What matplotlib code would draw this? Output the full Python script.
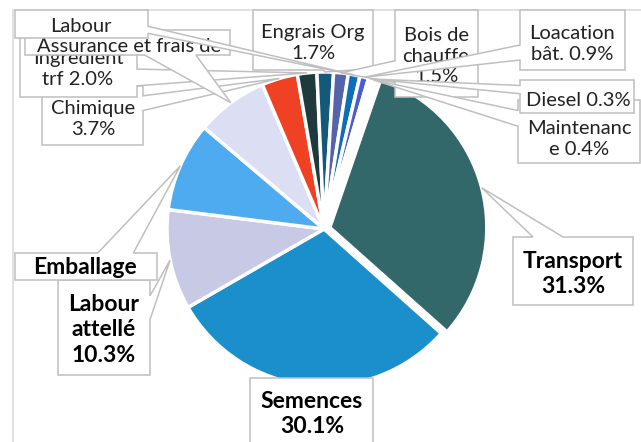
import matplotlib
matplotlib.use('Agg')
import matplotlib.pyplot as plt
from matplotlib.patches import Polygon, Rectangle
import numpy as np

# ---------------- data ----------------
categories = ['Transport', 'Semences', 'Labour attellé', 'Emballage',
              'Assurance et frais de transport', 'Chimique', 'Ingredient trf',
              'Engrais Org', 'Bois de chauffe', 'Labour', 'Loacation bât.',
              'Diesel', 'Maintenance']
values = [31.3, 30.1, 10.3, 9.2, 7.4, 3.7, 2.0, 1.7, 1.5, 1.2, 0.9, 0.3, 0.4]
label_texts = ['Transport\n31.3%', 'Semences\n30.1%', 'Labour\nattellé\n10.3%',
               'Emballage', 'Assurance et frais de', 'Chimique\n3.7%',
               'Ingredient\ntrf 2.0%', 'Engrais Org\n1.7%', 'Bois de\nchauffe\n1.5%',
               'Labour', 'Loacation\nbât. 0.9%', 'Diesel 0.3%', 'Maintenanc\ne 0.4%']
colors = ['#33686A', '#1B8FCB', '#C7C9E5', '#4EABEF', '#DCDFF4', '#EF4124',
          '#1F3A3C', '#135A7A', '#5563A9', '#0F6DB8', '#4B5BD2', '#C0392B', '#FFFFFF']
explode = [6, 0, 0, 0, 0, 0, 0, 0, 0, 0, 0, 0, 0]

# ---------------- layout (pixel coords, y downward) ----------------
W, H = 641, 442
# box (x0, y0, x1, y1), text centre (x, y), zorder, bold
layout = {
    'Transport':      ((513, 237, 633, 305), (573, 274), 3, True),
    'Semences':       ((250, 378, 373, 452), (312, 414), 3, True),
    'Labour attellé': ((58, 280, 150, 375), (104, 330), 3, True),
    'Emballage':      ((15, 253, 157, 280), (85, 268), 3, True),
    'Assurance et frais de transport': ((25, 30, 230, 55), (129, 47), 9, False),
    'Chimique':       ((42, 86, 143, 145), (93, 119), 7, False),
    'Ingredient trf': ((20, 30, 137, 97), (78, 69), 8, False),
    'Engrais Org':    ((253, 10, 373, 70), (313, 43), 5, False),
    'Bois de chauffe': ((395, 10, 478, 97), (436, 56), 6, False),
    'Labour':         ((15, 10, 148, 38), (81, 27), 10, False),
    'Loacation bât.': ((520, 10, 625, 70), (572, 44), 13, False),
    'Diesel':         ((520, 80, 634, 113), (578, 101), 12, False),
    'Maintenance':    ((518, 100, 640, 163), (579, 139), 11, False),
}

fig = plt.figure(figsize=(W / 100, H / 100), dpi=100)
ax = fig.add_axes([0, 0, 1, 1])

cx, cy, R = 324, H - 229, 157
wedges, _ = ax.pie(values, colors=colors, startangle=71, counterclock=False,
                   center=(cx, cy), radius=R, explode=explode,
                   wedgeprops=dict(edgecolor='white', linewidth=2.5))
for w in wedges:
    w.set_zorder(1)

ax.set_xlim(0, W)
ax.set_ylim(0, H)
ax.set_aspect('equal')
ax.set_axis_off()

# chart-area border
ax.add_patch(Rectangle((13, -20), 700, H - 10 + 20, fill=False,
                       edgecolor='#D9D9D9', linewidth=1.1, zorder=0.5))


def callout(box, tip):
    x0, y0, x1, y1 = box
    tx, ty = tip
    w, h = x1 - x0, y1 - y0
    bx, by = (x0 + x1) / 2, (y0 + y1) / 2
    dx, dy = tx - bx, ty - by
    if x0 <= tx <= x1 and y0 <= ty <= y1:
        return [(x0, y0), (x1, y0), (x1, y1), (x0, y1)]
    if abs(dx) / w > abs(dy) / h:
        if dy < 0:
            ya, yb = y0 + h * 2 / 12, y0 + h * 5 / 12
        else:
            ya, yb = y0 + h * 7 / 12, y0 + h * 10 / 12
        if dx > 0:
            return [(x0, y0), (x1, y0), (x1, ya), (tx, ty), (x1, yb), (x1, y1), (x0, y1)]
        return [(x0, y0), (x1, y0), (x1, y1), (x0, y1), (x0, yb), (tx, ty), (x0, ya)]
    if dx < 0:
        xa, xb = x0 + w * 2 / 12, x0 + w * 5 / 12
    else:
        xa, xb = x0 + w * 7 / 12, x0 + w * 10 / 12
    if dy < 0:
        return [(x0, y0), (xa, y0), (tx, ty), (xb, y0), (x1, y0), (x1, y1), (x0, y1)]
    return [(x0, y0), (x1, y0), (x1, y1), (xb, y1), (tx, ty), (xa, y1), (x0, y1)]


for cat, txt, w in zip(categories, label_texts, wedges):
    box, tpos, z, bold = layout[cat]
    mid = np.deg2rad((w.theta1 + w.theta2) / 2)
    wx, wy = w.center
    tip = (wx + w.r * np.cos(mid), H - (wy + w.r * np.sin(mid)))
    pts = callout(box, tip)
    pts = [(px, H - py) for px, py in pts]
    ax.add_patch(Polygon(pts, closed=True, facecolor='white', edgecolor='#BFBFBF',
                         linewidth=1.1, zorder=z, joinstyle='miter'))
    ax.text(tpos[0], H - tpos[1], txt, ha='center', va='center', multialignment='center',
            fontsize=16.5 if bold else 14.5, fontweight='bold' if bold else 'normal',
            family=['Lato', 'DejaVu Sans'], color='#000000' if bold else '#222222',
            linespacing=1.25, zorder=z + 0.5)

fig.savefig('out.png', dpi=100)
